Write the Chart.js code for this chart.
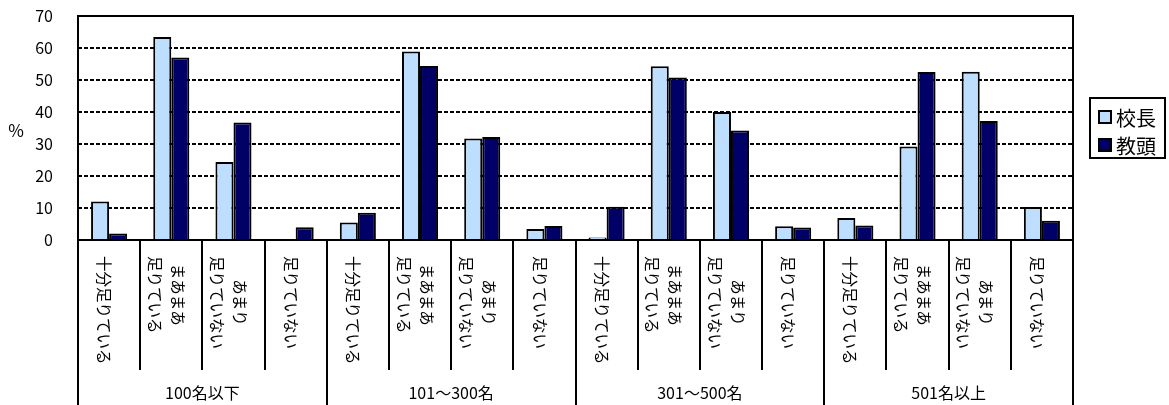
<!DOCTYPE html>
<html>
<head>
<meta charset="utf-8">
<script src="https://cdn.jsdelivr.net/npm/chart.js@4.4.1/dist/chart.umd.min.js"></script>
<style>
  html, body { margin: 0; padding: 0; background: #fff; }
  #wrap { width: 1169px; height: 405px; }
</style>
</head>
<body>
<div id="wrap"><canvas id="grafico"></canvas></div>
<script>
// ===================== DADOS =====================
const grupos = ['100名以下', '101～300名', '301～500名', '501名以上'];
const itens = [['十分足りている'], ['まあまあ', '足りている'], ['あまり', '足りていない'], ['足りていない']];
const series = ['校長', '教頭'];
const valoresKocho = [12, 63.4, 24.4, 0, 5.5, 58.9, 31.7, 3.4, 0.8, 54.3, 40.0, 4.3, 6.9, 29.2, 52.6, 10.3];
const valoresKyoto = [2, 57.0, 36.7, 4, 8.5, 54.4, 32.2, 4.4, 10.4, 50.8, 34.2, 3.9, 4.5, 52.5, 37.2, 6.0];
const ticksY = [0, 10, 20, 30, 40, 50, 60, 70];

const cores = ['#BDDEFF', '#000066'];
const FONTE = '"Noto Sans CJK JP", "Noto Sans", sans-serif';

// rótulos das categorias (grupo x item)
const rotulos = [];
grupos.forEach(g => itens.forEach(it => rotulos.push(it)));

// ===================== PLUGIN: eixo X, moldura e legenda =====================
const desenhoExtra = {
    id: 'desenhoExtra',
    afterDraw(chart) {
        const ctx = chart.ctx;
        const area = chart.chartArea;
        const xs = chart.scales.x;
        const n = rotulos.length;
        const larg = (area.right - area.left) / n;

        ctx.save();
        ctx.strokeStyle = '#000';
        ctx.lineWidth = 2;

        // moldura da área do gráfico
        ctx.strokeRect(area.left, area.top, area.right - area.left, area.bottom - area.top);

        // separadores das categorias
        for (let k = 0; k <= n; k++) {
            const x = Math.round(area.left + k * larg);
            const fim = (k % itens.length === 0) ? chart.height : 370;
            ctx.beginPath();
            ctx.moveTo(x, area.bottom);
            ctx.lineTo(x, fim);
            ctx.stroke();
        }

        // rótulos das categorias (girados 90° no sentido horário)
        ctx.fillStyle = '#000';
        ctx.font = '15.5px ' + FONTE;
        ctx.textBaseline = 'middle';
        ctx.textAlign = 'center';
        const alturaLinha = 23;
        rotulos.forEach((linhas, i) => {
            const cx = xs.getPixelForValue(i) - 5;
            const maxW = Math.max(...linhas.map(l => ctx.measureText(l).width));
            ctx.save();
            ctx.translate(cx, 256);
            ctx.rotate(Math.PI / 2);
            linhas.forEach((l, j) => {
                const dy = (j - (linhas.length - 1) / 2) * alturaLinha;
                ctx.fillText(l, maxW / 2, dy);
            });
            ctx.restore();
        });

        // rótulos dos grupos
        ctx.font = '16px ' + FONTE;
        grupos.forEach((g, gi) => {
            const x0 = area.left + gi * itens.length * larg;
            const x1 = x0 + itens.length * larg;
            ctx.fillText(g, (x0 + x1) / 2, 393);
        });

        // título do eixo Y
        ctx.font = '17px ' + FONTE;
        ctx.fillText('%', 16, 131);

        // legenda
        const lx = 1090, ly = 98, lw = 75, lh = 60;
        ctx.lineWidth = 2;
        ctx.strokeRect(lx, ly, lw, lh);
        ctx.font = '20px ' + FONTE;
        ctx.textAlign = 'left';
        chart.data.datasets.forEach((ds, i) => {
            const yy = 117 + i * 28;
            ctx.fillStyle = ds.backgroundColor;
            ctx.fillRect(1099, yy - 6, 12, 12);
            ctx.lineWidth = 2;
            ctx.strokeRect(1099, yy - 6, 12, 12);
            ctx.fillStyle = '#000';
            ctx.fillText(ds.label, 1116, yy + 1);
        });
        ctx.restore();
    }
};

// ===================== GRÁFICO =====================
const ctx = document.getElementById('grafico').getContext('2d');
new Chart(ctx, {
    type: 'bar',
    data: {
        labels: rotulos.map(l => l.join('')),
        datasets: [
            { label: series[0], data: valoresKocho, backgroundColor: cores[0], borderColor: '#000', borderWidth: 2, borderSkipped: 'bottom' },
            { label: series[1], data: valoresKyoto, backgroundColor: cores[1], borderColor: '#000', borderWidth: 2, borderSkipped: 'bottom' }
        ]
    },
    options: {
        responsive: true,
        maintainAspectRatio: false,
        animation: false,
        layout: { padding: { left: 0, right: 96, top: 0, bottom: 0 } },
        datasets: { bar: { categoryPercentage: 0.58, barPercentage: 1.0 } },
        plugins: {
            legend: { display: false },
            tooltip: { enabled: false }
        },
        scales: {
            x: {
                grid: { display: false },
                border: { display: false },
                ticks: { display: false },
                afterFit: s => { s.height = 165; }
            },
            y: {
                min: ticksY[0],
                max: ticksY[ticksY.length - 1],
                afterFit: s => { s.width = 78; s.paddingTop = 16; },
                afterBuildTicks: s => { s.ticks = ticksY.map(v => ({ value: v })); },
                grid: { color: '#000', lineWidth: 2, drawTicks: false },
                border: { display: false, dash: [4, 2] },
                ticks: { color: '#000', padding: 25, font: { size: 16, family: FONTE } }
            }
        }
    },
    plugins: [desenhoExtra]
});
</script>
</body>
</html>
